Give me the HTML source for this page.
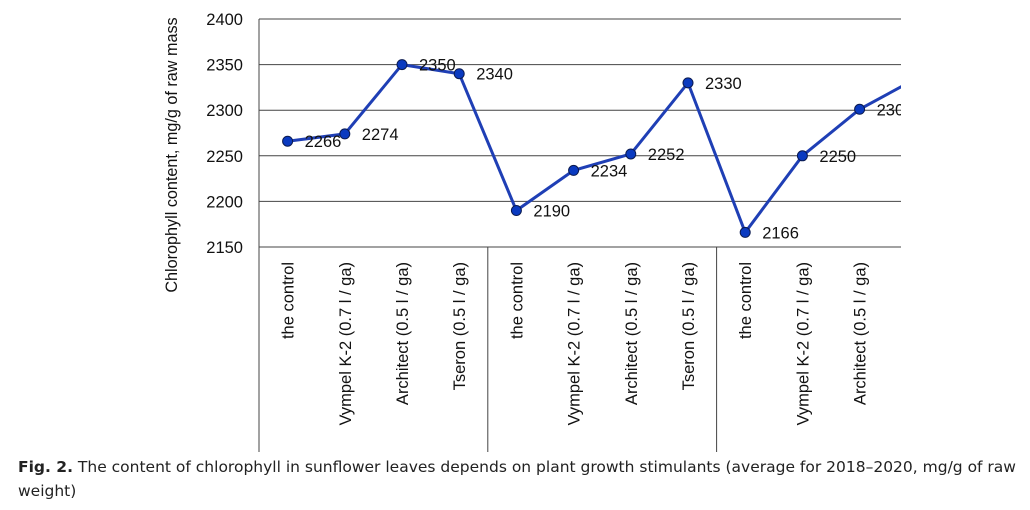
<!DOCTYPE html>
<html><head><meta charset="utf-8"><style>
body{margin:0;background:#fff;width:1030px;height:510px;overflow:hidden;position:relative;font-family:"Liberation Sans",Arial,sans-serif}
#cap{position:absolute;left:18px;top:455px;width:1012px;font-size:15.5px;line-height:24px;color:#222;font-family:"DejaVu Sans","Liberation Sans",sans-serif;letter-spacing:0}
svg text{font-family:"Liberation Sans",Arial,sans-serif}
</style></head><body>
<svg id="chart" width="1030" height="510" style="position:absolute;left:0;top:0"></svg>
<div id="cap"><b>Fig. 2.</b> The content of chlorophyll in sunflower leaves depends on plant growth stimulants (average for 2018–2020, mg/g of raw weight)</div>
<script>
const categories=["the control","Vympel K-2 (0.7 l / ga)","Architect (0.5 l / ga)","Tseron  (0.5 l / ga)","the control","Vympel K-2 (0.7 l / ga)","Architect (0.5 l / ga)","Tseron  (0.5 l / ga)","the control","Vympel K-2 (0.7 l / ga)","Architect (0.5 l / ga)","Tseron  (0.5 l / ga)"];
const values=[2266,2274,2350,2340,2190,2234,2252,2330,2166,2250,2301,2335];
const yTicks=[2150,2200,2250,2300,2350,2400];
const groupBounds=[0,4,8];
const NS="http://www.w3.org/2000/svg";
const svg=document.getElementById('chart');
const X0=259,STEP=57.2,CLIP=901,Y0=247,Y1=19,YMIN=2150,YMAX=2400;
const xs=i=>X0+STEP*(i+0.5);
const ys=v=>Y0-(v-YMIN)/(YMAX-YMIN)*(Y0-Y1);
function mk(t,a,p){const e=document.createElementNS(NS,t);for(const k in a)e.setAttribute(k,a[k]);(p||svg).appendChild(e);return e;}
const defs=mk('defs',{});const cp=mk('clipPath',{id:'pc'},defs);mk('rect',{x:0,y:0,width:CLIP,height:510},cp);
yTicks.forEach(v=>{
  const l=mk('line',{x1:X0,x2:CLIP,y1:ys(v),y2:ys(v),stroke:'#444','stroke-width':1});
  
  
  const t=mk('text',{x:243,y:ys(v)+6,'text-anchor':'end','font-size':16.5,fill:'#111'});t.textContent=v;
  
  
});
const ax=mk('line',{x1:X0,x2:X0,y1:Y1,y2:Y0,stroke:'#444'});


groupBounds.forEach(g=>{
  const x=X0+STEP*g;
  const l=mk('line',{x1:x,x2:x,y1:Y0,y2:452,stroke:'#444'});
  
  
});
categories.forEach((c,i)=>{
  const x=xs(i);if(x>CLIP)return;
  const t=mk('text',{transform:`translate(${x+6},262) rotate(-90)`,'text-anchor':'end','font-size':16.5,fill:'#111'});
  t.textContent=c;
  
  
});
const yt=mk('text',{transform:'translate(177,155) rotate(-90)','text-anchor':'middle','font-size':16.2,fill:'#111'});
yt.textContent='Chlorophyll content, mg/g of raw mass';


const g=mk('g',{'clip-path':'url(#pc)'});
const pl=mk('polyline',{points:values.map((v,i)=>xs(i)+','+ys(v)).join(' '),fill:'none',stroke:'#1f3fb5','stroke-width':3},g);


values.forEach((v,i)=>{
  const c=mk('circle',{cx:xs(i),cy:ys(v),r:5,fill:'#0a3ac0',stroke:'#0a1a50','stroke-width':1},g);
  
  
  const t=mk('text',{x:xs(i)+17,y:ys(v)+6,'font-size':16.5,fill:'#111'},g);
  t.textContent=v;
  
  
});
</script>
</body></html>
